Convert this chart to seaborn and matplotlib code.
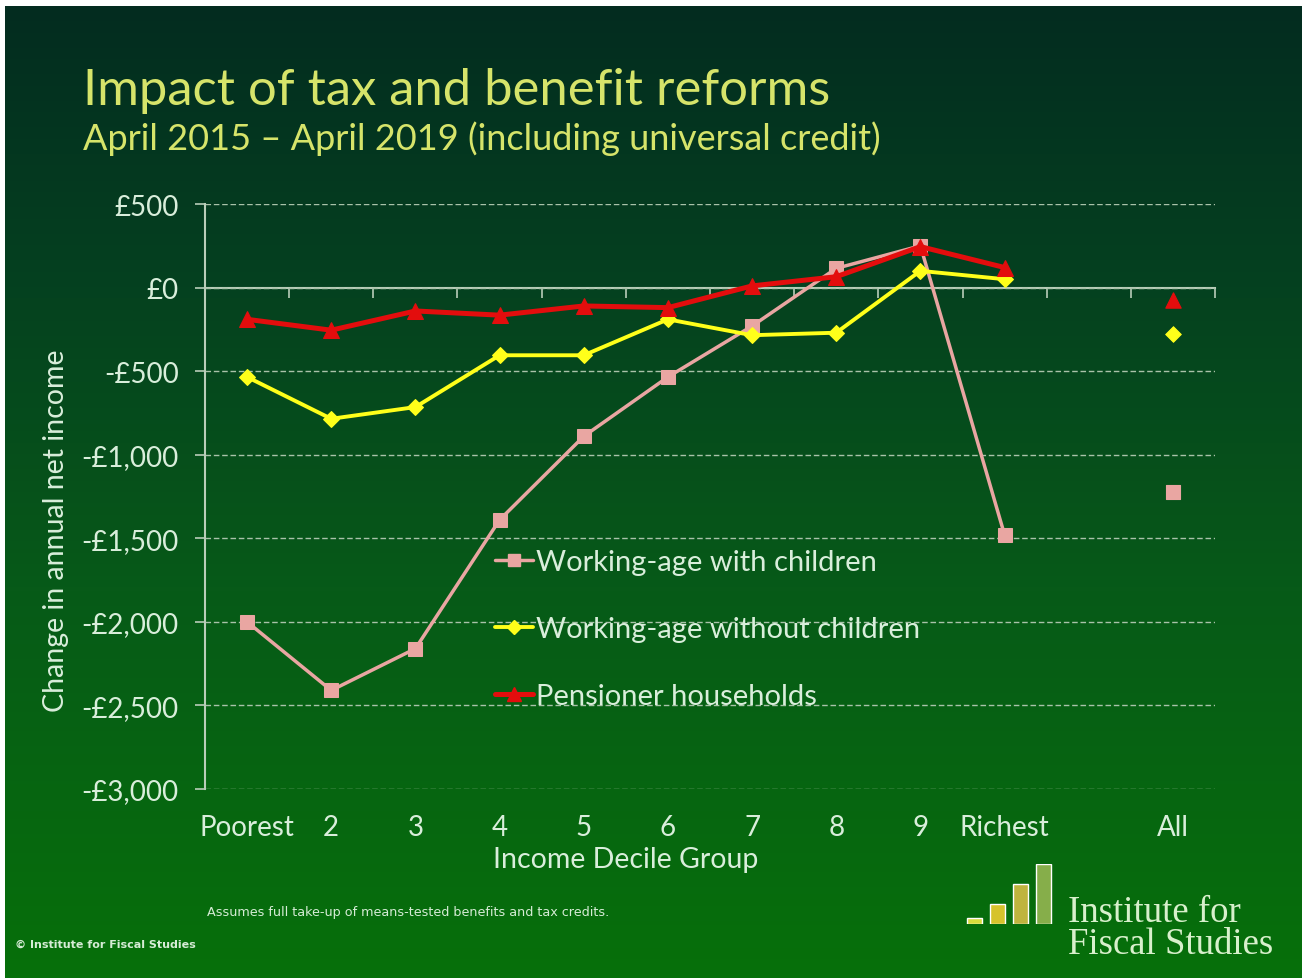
import numpy as np
import pandas as pd
import matplotlib
matplotlib.use('Agg')
import matplotlib.pyplot as plt
import seaborn as sns
from matplotlib.colors import LinearSegmentedColormap
from matplotlib.lines import Line2D

# ---------------- data ----------------
deciles = ['Poorest', '2', '3', '4', '5', '6', '7', '8', '9', 'Richest']
all_label = 'All'
series_names = ['Working-age with children', 'Working-age without children', 'Pensioner households']
with_children = [-2000, -2410, -2160, -1390, -890, -535, -230, 115, 250, -1480]
without_children = [-535, -785, -715, -405, -405, -190, -285, -270, 100, 50]
pensioners = [-190, -255, -140, -165, -110, -120, 10, 65, 245, 120]
all_values = [-1225, -280, -75]
y_ticks = [500, 0, -500, -1000, -1500, -2000, -2500, -3000]
y_tick_labels = ['£500', '£0', '-£500', '-£1,000', '-£1,500', '-£2,000', '-£2,500', '-£3,000']
logo_bars = [6, 19, 39, 58]

# ---------------- style ----------------
sns.set_theme(style='white')
plt.rcParams['font.family'] = ['Lato', 'DejaVu Sans']

series_colors = ['#e9a6a2', '#ffff1a', '#e30d0d']
series_markers = ['s', 'D', '^']
series_msize = [10, 8, 11]
series_lw = [2.5, 2.8, 3.6]
light = '#d9eedb'
axis_col = '#b9cdb9'

W, H = 1302, 979
fig = plt.figure(figsize=(W / 100, H / 100), dpi=100)
fig.patch.set_facecolor('white')

# background gradient panel
bg = fig.add_axes([5 / W, 0, (W - 5) / W, (H - 7) / H])
cmap = LinearSegmentedColormap.from_list(
    'bg', [(0.0, '#032c20'), (0.3, '#05421f'), (0.6, '#075a18'), (1.0, '#06700a')])
bg.imshow(np.linspace(0, 1, 256).reshape(-1, 1), aspect='auto', cmap=cmap, extent=[0, 1, 0, 1])
bg.set_axis_off()

# main axes
ax = fig.add_axes([205 / W, 1 - 790 / H, 1010 / W, 585 / H])
ax.set_facecolor('none')

positions = list(range(len(deciles)))
all_pos = len(deciles) + 1

df = pd.DataFrame({
    'x': positions * 3,
    'value': with_children + without_children + pensioners,
    'series': np.repeat(series_names, len(deciles)),
})
df_all = pd.DataFrame({'x': [all_pos] * 3, 'value': all_values, 'series': series_names})

for name, col, mk, ms, lw in zip(series_names, series_colors, series_markers, series_msize, series_lw):
    sub = df[df['series'] == name]
    sns.lineplot(data=sub, x='x', y='value', ax=ax, color=col, marker=mk, markersize=ms,
                 markeredgecolor=col, linewidth=lw, legend=False, zorder=3)
    suba = df_all[df_all['series'] == name]
    sns.scatterplot(data=suba, x='x', y='value', ax=ax, color=col, marker=mk,
                    s=ms ** 2, edgecolor=col, legend=False, zorder=3)

ax.set_xlim(-0.5, all_pos + 0.5)
ax.set_ylim(-3000, 500)

# y axis
ax.set_yticks(y_ticks)
ax.set_yticklabels(y_tick_labels)
ax.yaxis.grid(True, linestyle=(0, (4, 2)), color='#a9c2a9', linewidth=1.0)
ax.xaxis.grid(False)
ax.tick_params(axis='y', length=7, width=1.2, color=axis_col, direction='out', pad=12,
               labelsize=20, labelcolor=light, left=True)
for s in ['top', 'right', 'bottom']:
    ax.spines[s].set_visible(False)
ax.spines['left'].set_color(axis_col)
ax.spines['left'].set_linewidth(1.5)

# x axis labels
ax.set_xticks(positions + [all_pos - 1, all_pos])
ax.set_xticklabels(deciles + ['', all_label])
ax.tick_params(axis='x', length=0, pad=18, labelsize=20, labelcolor=light)
ax.set_xlabel('Income Decile Group', fontsize=20.5, color=light)
ax.xaxis.set_label_coords(5 / 12, -0.097)
ax.set_ylabel('Change in annual net income', fontsize=20.5, color=light)
ax.yaxis.set_label_coords(-0.135, 0.443)

# zero line with category-boundary ticks
sec = ax.secondary_xaxis(3000 / 3500)
sec.set_alignment('bottom')
sec.set_xticks(np.arange(-0.5, all_pos + 1, 1.0))
sec.tick_params(axis='x', direction='out', length=7, width=1.2, color=axis_col, labelbottom=False, labeltop=False)
sec.spines['bottom'].set_color(axis_col)
sec.spines['bottom'].set_linewidth(1.5)

# legend
handles = [Line2D([0], [0], color=c, marker=m, markersize=ms * 0.9, markeredgecolor=c, linewidth=lw)
           for c, m, ms, lw in zip(series_colors, series_markers, series_msize, series_lw)]
leg = ax.legend(handles, series_names, loc='center left', bbox_to_anchor=(0.287, 0.2735),
                frameon=False, fontsize=21, labelcolor=light, handlelength=1.3,
                handletextpad=0.12, labelspacing=1.4, borderpad=0, borderaxespad=0)

# titles
fig.text(83 / W, 1 - 91 / H, 'Impact of tax and benefit reforms', fontsize=36.5, color='#d6e46a',
         ha='left', va='center')
fig.text(83 / W, 1 - 139 / H, 'April 2015 – April 2019 (including universal credit)', fontsize=26,
         color='#d6e46a', ha='left', va='center')

# footnotes
fig.text(207 / W, 1 - 913 / H, 'Assumes full take-up of means-tested benefits and tax credits.',
         fontsize=9.2, color='#d6ecd6', ha='left', va='center', family=['DejaVu Sans'])
fig.text(15 / W, 1 - 945 / H, '© Institute for Fiscal Studies', fontsize=8, color='#d6ecd6',
         ha='left', va='center', fontweight='bold', family=['DejaVu Sans'])

# logo
lax = fig.add_axes([963 / W, 1 - 925 / H, 92 / W, 60 / H])
lax.bar(range(len(logo_bars)), logo_bars, width=0.62,
        color=['#d7dc3c', '#d6c32c', '#bfb43e', '#86ae4a'])
lax.set_xlim(-0.5, len(logo_bars) - 0.5)
lax.set_ylim(0, max(logo_bars))
lax.set_axis_off()
fig.text(1068 / W, 1 - 913 / H, 'Institute for', fontsize=26.5, color='#d8f0cc', ha='left', va='center',
         family=['Liberation Serif', 'DejaVu Serif'])
fig.text(1068 / W, 1 - 945 / H, 'Fiscal Studies', fontsize=26.5, color='#d8f0cc', ha='left', va='center',
         family=['Liberation Serif', 'DejaVu Serif'])

fig.savefig('out.png', dpi=100)
